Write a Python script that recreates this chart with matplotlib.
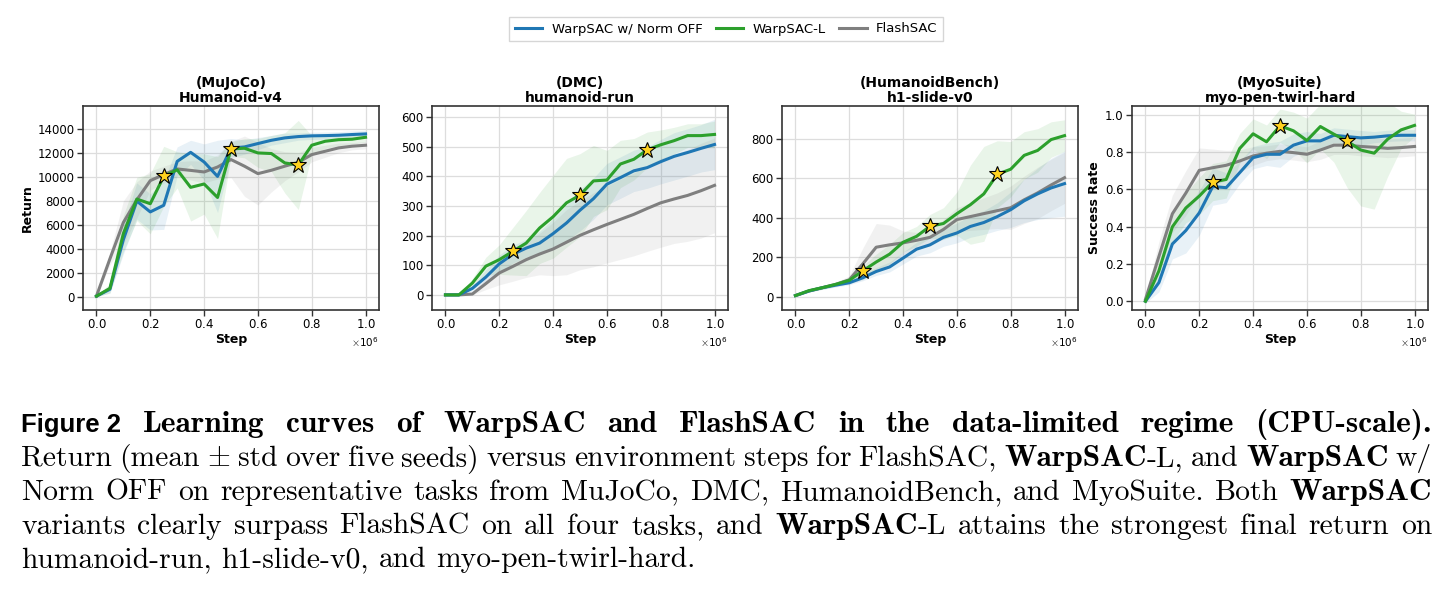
import numpy as np
import matplotlib
matplotlib.use("Agg")
import matplotlib.pyplot as plt

plt.rcParams['mathtext.fontset'] = 'cm'

# ---- data (x in env steps) ----
steps = np.arange(21) * 50000
star_steps = [250000, 500000, 750000]

labels = ['WarpSAC w/ Norm OFF', 'WarpSAC-L', 'FlashSAC']
colors = ['#1f77b4', '#2ca02c', '#7f7f7f']

# MuJoCo Humanoid-v4
mujoco_off = [100, 670, 4800, 8000, 7100, 7650, 11300, 12050, 11250, 10050, 12400,
              12500, 12780, 13050, 13250, 13360, 13420, 13440, 13470, 13530, 13580]
mujoco_off_std = [50, 300, 1200, 1500, 1500, 2000, 1200, 1000, 1500, 3000, 800,
                  600, 500, 400, 400, 300, 300, 300, 300, 300, 300]
mujoco_l = [100, 750, 5300, 8170, 7780, 10050, 10600, 9140, 9420, 8300, 12330,
            12390, 12000, 11950, 11170, 11000, 12640, 12970, 13100, 13140, 13300]
mujoco_l_std = [50, 400, 1500, 1800, 2500, 2500, 1500, 2800, 2500, 3400, 600,
                800, 1200, 1500, 2500, 3700, 800, 600, 500, 400, 400]
mujoco_flash = [100, 3200, 6220, 8100, 9700, 10200, 10670, 10550, 10420, 10830, 11450,
                10900, 10280, 10560, 10900, 11220, 11860, 12140, 12420, 12560, 12640]
mujoco_flash_std = [50, 500, 1800, 1500, 800, 700, 600, 800, 900, 1000, 1500,
                    2500, 2600, 1800, 1200, 800, 600, 500, 400, 300, 300]

# DMC humanoid-run
dmc_off = [0, 0, 22, 60, 105, 137, 158, 175, 207, 243, 286,
           325, 374, 396, 419, 430, 450, 468, 481, 495, 508]
dmc_off_std = [0, 0, 10, 25, 30, 30, 30, 40, 50, 60, 70,
               70, 70, 70, 70, 70, 75, 80, 80, 80, 85]
dmc_l = [0, 0, 40, 97, 119, 147, 175, 226, 264, 311, 337,
         385, 388, 442, 458, 490, 507, 521, 538, 538, 542]
dmc_l_std = [0, 0, 15, 30, 50, 80, 110, 120, 140, 150, 140,
             120, 100, 80, 70, 60, 50, 45, 40, 40, 45]
dmc_flash = [0, 0, 3, 38, 74, 96, 119, 138, 155, 178, 201,
             220, 238, 255, 272, 292, 311, 324, 336, 352, 370]
dmc_flash_std = [0, 0, 3, 20, 40, 50, 60, 70, 90, 110, 116,
                 125, 130, 135, 140, 145, 150, 150, 155, 160, 160]

# HumanoidBench h1-slide-v0
hb_off = [5, 28, 45, 58, 70, 95, 127, 150, 195, 240, 262,
          300, 322, 355, 375, 405, 440, 485, 520, 550, 572]
hb_off_std = [2, 5, 8, 10, 10, 15, 20, 25, 30, 35, 40,
              45, 50, 55, 60, 70, 90, 110, 130, 150, 165]
hb_l = [5, 30, 45, 62, 82, 130, 175, 215, 275, 305, 356,
        370, 420, 465, 520, 619, 645, 715, 740, 795, 815]
hb_l_std = [2, 5, 8, 10, 15, 25, 40, 50, 50, 50, 60,
            80, 110, 200, 240, 170, 140, 120, 110, 90, 80]
hb_flash = [5, 28, 45, 62, 85, 165, 250, 262, 272, 285, 300,
            340, 390, 405, 420, 435, 450, 490, 525, 565, 602]
hb_flash_std = [2, 5, 8, 10, 20, 80, 120, 100, 60, 40, 40,
                50, 60, 70, 80, 90, 110, 120, 130, 130, 130]

# MyoSuite myo-pen-twirl-hard
myo_off = [0.0, 0.10, 0.307, 0.379, 0.474, 0.615, 0.609, 0.689, 0.770, 0.788, 0.788,
           0.837, 0.860, 0.860, 0.890, 0.883, 0.876, 0.880, 0.887, 0.890, 0.890]
myo_off_std = [0.01, 0.05, 0.08, 0.12, 0.12, 0.10, 0.08, 0.06, 0.06, 0.06, 0.07,
               0.06, 0.05, 0.04, 0.04, 0.04, 0.04, 0.03, 0.03, 0.03, 0.03]
myo_l = [0.0, 0.163, 0.399, 0.500, 0.564, 0.639, 0.653, 0.819, 0.898, 0.855, 0.941,
         0.914, 0.862, 0.937, 0.896, 0.858, 0.811, 0.794, 0.869, 0.919, 0.943]
myo_l_std = [0.01, 0.06, 0.08, 0.08, 0.10, 0.10, 0.10, 0.08, 0.08, 0.09, 0.09,
             0.10, 0.12, 0.12, 0.15, 0.25, 0.30, 0.30, 0.20, 0.10, 0.06]
myo_flash = [0.01, 0.24, 0.469, 0.580, 0.702, 0.716, 0.729, 0.752, 0.779, 0.794, 0.804,
             0.797, 0.788, 0.811, 0.837, 0.837, 0.830, 0.826, 0.820, 0.824, 0.830]
myo_flash_std = [0.01, 0.08, 0.10, 0.12, 0.12, 0.10, 0.08, 0.06, 0.05, 0.04, 0.04,
                 0.04, 0.04, 0.05, 0.05, 0.05, 0.05, 0.05, 0.05, 0.05, 0.05]

panels = [
    ('(MuJoCo)\nHumanoid-v4', 'Return', (-1050, 15900), np.arange(0, 14001, 2000),
     [(mujoco_off, mujoco_off_std), (mujoco_l, mujoco_l_std), (mujoco_flash, mujoco_flash_std)]),
    ('(DMC)\nhumanoid-run', None, (-51, 638), np.arange(0, 601, 100),
     [(dmc_off, dmc_off_std), (dmc_l, dmc_l_std), (dmc_flash, dmc_flash_std)]),
    ('(HumanoidBench)\nh1-slide-v0', None, (-68, 965), np.arange(0, 801, 200),
     [(hb_off, hb_off_std), (hb_l, hb_l_std), (hb_flash, hb_flash_std)]),
    ('(MyoSuite)\nmyo-pen-twirl-hard', 'Success Rate', (-0.047, 1.047), np.arange(0, 1.01, 0.2),
     [(myo_off, myo_off_std), (myo_l, myo_l_std), (myo_flash, myo_flash_std)]),
]

W, H = 1454, 596
fig = plt.figure(figsize=(W / 100, H / 100), dpi=100)

ax_left = [83, 432, 782, 1132]
ax_w, ax_top, ax_bot = 296, 106, 310

handles = []
for i, (title, ylab, ylim, yticks, series) in enumerate(panels):
    ax = fig.add_axes([ax_left[i] / W, 1 - ax_bot / H, ax_w / W, (ax_bot - ax_top) / H])
    for j, (mean, std) in enumerate(series):
        m = np.array(mean, dtype=float)
        s = np.array(std, dtype=float)
        ax.fill_between(steps, m - s, m + s, color=colors[j], alpha=0.1, lw=0)
        ln, = ax.plot(steps, m, color=colors[j], lw=2.2, label=labels[j],
                      zorder=3 if j != 2 else 2.5)
        if i == 0:
            handles.append(ln)
    # stars on WarpSAC-L
    l_mean = np.array(series[1][0], dtype=float)
    idx = [list(steps).index(s) for s in star_steps]
    ax.plot(steps[idx], l_mean[idx], ls='none', marker='*', ms=12,
            mfc='#FFD21F', mec='black', mew=0.8, zorder=5)

    ax.set_xlim(-50000, 1050000)
    ax.set_ylim(*ylim)
    ax.set_yticks(yticks)
    ax.set_xticks(np.arange(0, 1000001, 200000))
    ax.ticklabel_format(axis='x', style='sci', scilimits=(0, 0), useMathText=True)
    ax.xaxis.get_offset_text().set_fontsize(7.5)
    ax.grid(True, color='#dddddd', lw=0.9)
    ax.set_axisbelow(True)
    for sp in ax.spines.values():
        sp.set_color('#333333')
        sp.set_linewidth(1.2)
    ax.tick_params(labelsize=8.5, length=4, width=1, color='#333333', pad=2)
    ax.set_title(title, fontsize=10, fontweight='bold', pad=3, linespacing=1.1)
    ax.set_xlabel('Step', fontsize=9, fontweight='bold', labelpad=1)
    if ylab:
        ax.set_ylabel(ylab, fontsize=9, fontweight='bold', labelpad=3)

fig.legend(handles=handles, labels=labels, loc='center', bbox_to_anchor=(726 / W, 1 - 29 / H),
           ncol=3, fontsize=9.5, frameon=True, fancybox=False, edgecolor='#cccccc',
           handlelength=2.1, columnspacing=1.0, borderpad=0.4, handletextpad=0.7)

# ---- caption (words are lists of (text, family, size) segments) ----
cap_size = 21.3
bold_size = 22.6
x0, x1 = 21, 1432
sans = ['Liberation Sans Narrow', 'Liberation Sans', 'DejaVu Sans']


def rm(s):
    return [(s, 'cmr10', cap_size)]


def bf(s, tail=''):
    seg = [('WarpSAC', 'cmb10', bold_size)]
    if s:
        seg.append((s, 'cmr10', cap_size))
    return seg


caption_lines = [
    ([[('Figure 2', sans, 18.5)]] +
     [[(w, 'cmb10', bold_size)] for w in
      'Learning curves of WarpSAC and FlashSAC in the data-limited regime (CPU-scale).'.split()], 432, True),
    ([rm(w) for w in ['Return', '(mean', r'$\pm$', 'std', 'over', 'five', 'seeds)', 'versus',
                      'environment', 'steps', 'for', 'FlashSAC,']] +
     [bf('-L,'), rm('and'), bf(''), rm('w/')], 466, True),
    ([rm(w) for w in ['Norm', 'OFF', 'on', 'representative', 'tasks', 'from', 'MuJoCo,', 'DMC,',
                      'HumanoidBench,', 'and', 'MyoSuite.', 'Both']] + [bf('')], 500, True),
    ([rm(w) for w in ['variants', 'clearly', 'surpass', 'FlashSAC', 'on', 'all', 'four', 'tasks,',
                      'and']] + [bf('-L')] +
     [rm(w) for w in ['attains', 'the', 'strongest', 'final', 'return', 'on']], 534, True),
    ([rm(w) for w in 'humanoid-run, h1-slide-v0, and myo-pen-twirl-hard.'.split()], 567, False),
]

renderer = fig.canvas.get_renderer()
space = 0.333 * cap_size * 100 / 72
for words, yb, justify in caption_lines:
    placed = []
    for segs in words:
        items = []
        for s, fam, fs in segs:
            weight = 'bold' if fam == sans else 'normal'
            t = fig.text(0, 1 - yb / H, s, fontsize=fs, family=fam, fontweight=weight,
                         va='baseline', ha='left')
            items.append((t, t.get_window_extent(renderer).width))
        placed.append(items)
    word_w = [sum(wd for _, wd in items) for items in placed]
    gap = (x1 - x0 - sum(word_w)) / (len(placed) - 1) if justify else space
    x = x0
    for items, ww in zip(placed, word_w):
        xs = x
        for t, wd in items:
            t.set_x(xs / W)
            xs += wd
        x += ww + gap

fig.savefig('out.png', dpi=100)
